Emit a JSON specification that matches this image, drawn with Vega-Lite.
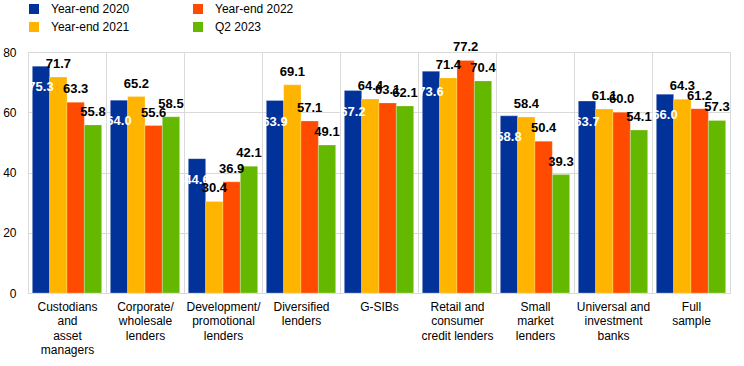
{
  "$schema": "https://vega.github.io/schema/vega-lite/v6.json",
  "width": 702,
  "height": 241,
  "autosize": {"type": "none"},
  "padding": {"left": 28, "top": 52, "right": 14, "bottom": 73},
  "background": "white",
  "config": {
    "font": "Liberation Sans",
    "view": {"stroke": "#d9d9d9", "strokeWidth": 1},
    "axis": {"gridColor": "#d9d9d9", "gridWidth": 1, "labelFont": "Liberation Sans", "labelFontSize": 12, "labelColor": "#000000"}
  },
  "data": {
    "values": [
      {"cat": "Custodians|and|asset|managers", "series": "Year-end 2020", "value": 75.3},
      {"cat": "Custodians|and|asset|managers", "series": "Year-end 2021", "value": 71.7},
      {"cat": "Custodians|and|asset|managers", "series": "Year-end 2022", "value": 63.3},
      {"cat": "Custodians|and|asset|managers", "series": "Q2 2023", "value": 55.8},
      {"cat": "Corporate/|wholesale|lenders", "series": "Year-end 2020", "value": 64.0},
      {"cat": "Corporate/|wholesale|lenders", "series": "Year-end 2021", "value": 65.2},
      {"cat": "Corporate/|wholesale|lenders", "series": "Year-end 2022", "value": 55.6},
      {"cat": "Corporate/|wholesale|lenders", "series": "Q2 2023", "value": 58.5},
      {"cat": "Development/|promotional|lenders", "series": "Year-end 2020", "value": 44.6},
      {"cat": "Development/|promotional|lenders", "series": "Year-end 2021", "value": 30.4},
      {"cat": "Development/|promotional|lenders", "series": "Year-end 2022", "value": 36.9},
      {"cat": "Development/|promotional|lenders", "series": "Q2 2023", "value": 42.1},
      {"cat": "Diversified|lenders", "series": "Year-end 2020", "value": 63.9},
      {"cat": "Diversified|lenders", "series": "Year-end 2021", "value": 69.1},
      {"cat": "Diversified|lenders", "series": "Year-end 2022", "value": 57.1},
      {"cat": "Diversified|lenders", "series": "Q2 2023", "value": 49.1},
      {"cat": "G-SIBs", "series": "Year-end 2020", "value": 67.2},
      {"cat": "G-SIBs", "series": "Year-end 2021", "value": 64.4},
      {"cat": "G-SIBs", "series": "Year-end 2022", "value": 63.1},
      {"cat": "G-SIBs", "series": "Q2 2023", "value": 62.1},
      {"cat": "Retail and|consumer|credit lenders", "series": "Year-end 2020", "value": 73.6},
      {"cat": "Retail and|consumer|credit lenders", "series": "Year-end 2021", "value": 71.4},
      {"cat": "Retail and|consumer|credit lenders", "series": "Year-end 2022", "value": 77.2},
      {"cat": "Retail and|consumer|credit lenders", "series": "Q2 2023", "value": 70.4},
      {"cat": "Small|market|lenders", "series": "Year-end 2020", "value": 58.8},
      {"cat": "Small|market|lenders", "series": "Year-end 2021", "value": 58.4},
      {"cat": "Small|market|lenders", "series": "Year-end 2022", "value": 50.4},
      {"cat": "Small|market|lenders", "series": "Q2 2023", "value": 39.3},
      {"cat": "Universal and|investment|banks", "series": "Year-end 2020", "value": 63.7},
      {"cat": "Universal and|investment|banks", "series": "Year-end 2021", "value": 61.1},
      {"cat": "Universal and|investment|banks", "series": "Year-end 2022", "value": 60.0},
      {"cat": "Universal and|investment|banks", "series": "Q2 2023", "value": 54.1},
      {"cat": "Full|sample", "series": "Year-end 2020", "value": 66.0},
      {"cat": "Full|sample", "series": "Year-end 2021", "value": 64.3},
      {"cat": "Full|sample", "series": "Year-end 2022", "value": 61.2},
      {"cat": "Full|sample", "series": "Q2 2023", "value": 57.3}
    ]
  },
  "encoding": {
    "x": {
      "field": "cat", "type": "nominal", "sort": null, "title": null,
      "scale": {"paddingInner": 0, "paddingOuter": 0},
      "axis": {"labelAngle": 0, "labelExpr": "split(datum.label, '|')", "labelLineHeight": 14.5, "labelPadding": 8, "labelBaseline": "top", "ticks": false, "domain": false, "grid": true, "tickBand": "extent", "labelLimit": 200}
    },
    "xOffset": {
      "field": "series", "type": "nominal",
      "scale": {"domain": ["Year-end 2020", "Year-end 2021", "Year-end 2022", "Q2 2023"], "paddingInner": 0, "paddingOuter": 0.25}
    },
    "y": {
      "field": "value", "type": "quantitative", "title": null,
      "scale": {"domain": [0, 80], "nice": false},
      "axis": {"values": [0, 20, 40, 60, 80], "ticks": false, "domain": false, "labelPadding": 12, "grid": true}
    }
  },
  "layer": [
    {
      "mark": {"type": "bar", "stroke": "white", "strokeOpacity": 0.25, "strokeWidth": 1},
      "encoding": {
        "color": {
          "field": "series", "type": "nominal",
          "scale": {"domain": ["Year-end 2020", "Year-end 2022", "Year-end 2021", "Q2 2023"], "range": ["#003299", "#FF4B00", "#FFB400", "#65B800"]},
          "legend": {
            "title": null, "orient": "none", "legendX": 0, "legendY": -49, "columns": 2, "direction": "horizontal",
            "symbolType": "square", "symbolSize": 100, "symbolStrokeWidth": 0, "symbolOpacity": 1,
            "labelFont": "Liberation Sans", "labelFontSize": 12, "labelColor": "#000000", "labelOffset": 11,
            "columnPadding": 62, "rowPadding": 6, "padding": 0
          }
        }
      }
    },
    {
      "transform": [{"filter": "datum.series === 'Year-end 2020'"}],
      "mark": {"type": "text", "color": "white", "fontWeight": "bold", "fontSize": 13, "baseline": "middle", "dy": 21},
      "encoding": {"text": {"field": "value", "type": "quantitative", "format": ".1f"}}
    },
    {
      "transform": [{"filter": "datum.series !== 'Year-end 2020'"}],
      "mark": {"type": "text", "color": "black", "fontWeight": "bold", "fontSize": 13, "baseline": "middle", "dy": -13},
      "encoding": {"text": {"field": "value", "type": "quantitative", "format": ".1f"}}
    }
  ]
}
